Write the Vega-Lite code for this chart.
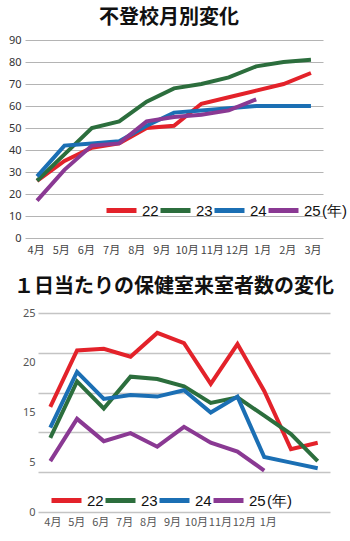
{
  "$schema": "https://vega.github.io/schema/vega-lite/v6.json",
  "padding": {"left": 8, "top": 8, "right": 0, "bottom": 0},
  "spacing": 22,
  "center": true,
  "resolve": {"legend": {"color": "independent"}},
  "config": {
    "font": "Noto Sans CJK JP",
    "view": {"stroke": null},
    "legend": {"padding": 0}
  },
  "datasets": {
    "a": [
      {"year": "22", "month": "4月", "value": 26}, {"year": "22", "month": "5月", "value": 35}, {"year": "22", "month": "6月", "value": 41}, {"year": "22", "month": "7月", "value": 43}, {"year": "22", "month": "8月", "value": 50}, {"year": "22", "month": "9月", "value": 51}, {"year": "22", "month": "10月", "value": 61}, {"year": "22", "month": "11月", "value": 64}, {"year": "22", "month": "12月", "value": 67}, {"year": "22", "month": "1月", "value": 70}, {"year": "22", "month": "2月", "value": 75},
      {"year": "23", "month": "4月", "value": 26}, {"year": "23", "month": "5月", "value": 38}, {"year": "23", "month": "6月", "value": 50}, {"year": "23", "month": "7月", "value": 53}, {"year": "23", "month": "8月", "value": 62}, {"year": "23", "month": "9月", "value": 68}, {"year": "23", "month": "10月", "value": 70}, {"year": "23", "month": "11月", "value": 73}, {"year": "23", "month": "12月", "value": 78}, {"year": "23", "month": "1月", "value": 80}, {"year": "23", "month": "2月", "value": 81},
      {"year": "24", "month": "4月", "value": 28}, {"year": "24", "month": "5月", "value": 42}, {"year": "24", "month": "6月", "value": 43}, {"year": "24", "month": "7月", "value": 44}, {"year": "24", "month": "8月", "value": 51}, {"year": "24", "month": "9月", "value": 57}, {"year": "24", "month": "10月", "value": 58}, {"year": "24", "month": "11月", "value": 59}, {"year": "24", "month": "12月", "value": 60}, {"year": "24", "month": "1月", "value": 60}, {"year": "24", "month": "2月", "value": 60},
      {"year": "25", "month": "4月", "value": 17}, {"year": "25", "month": "5月", "value": 31}, {"year": "25", "month": "6月", "value": 42}, {"year": "25", "month": "7月", "value": 43}, {"year": "25", "month": "8月", "value": 53}, {"year": "25", "month": "9月", "value": 55}, {"year": "25", "month": "10月", "value": 56}, {"year": "25", "month": "11月", "value": 58}, {"year": "25", "month": "12月", "value": 63}
    ],
    "b": [
      {"year": "22", "month": "4月", "value": 13.2}, {"year": "22", "month": "5月", "value": 20.3}, {"year": "22", "month": "6月", "value": 20.5}, {"year": "22", "month": "7月", "value": 19.5}, {"year": "22", "month": "8月", "value": 22.5}, {"year": "22", "month": "9月", "value": 21.2}, {"year": "22", "month": "10月", "value": 16.1}, {"year": "22", "month": "11月", "value": 21.1}, {"year": "22", "month": "12月", "value": 15.2}, {"year": "22", "month": "1月", "value": 7.9}, {"year": "22", "month": "2月", "value": 8.7},
      {"year": "23", "month": "4月", "value": 9.3}, {"year": "23", "month": "5月", "value": 16.4}, {"year": "23", "month": "6月", "value": 13.0}, {"year": "23", "month": "7月", "value": 17.0}, {"year": "23", "month": "8月", "value": 16.7}, {"year": "23", "month": "9月", "value": 15.8}, {"year": "23", "month": "10月", "value": 13.7}, {"year": "23", "month": "11月", "value": 14.4}, {"year": "23", "month": "12月", "value": 12.1}, {"year": "23", "month": "1月", "value": 9.8}, {"year": "23", "month": "2月", "value": 6.4},
      {"year": "24", "month": "4月", "value": 10.6}, {"year": "24", "month": "5月", "value": 17.6}, {"year": "24", "month": "6月", "value": 14.2}, {"year": "24", "month": "7月", "value": 14.7}, {"year": "24", "month": "8月", "value": 14.5}, {"year": "24", "month": "9月", "value": 15.3}, {"year": "24", "month": "10月", "value": 12.5}, {"year": "24", "month": "11月", "value": 14.5}, {"year": "24", "month": "12月", "value": 6.9}, {"year": "24", "month": "1月", "value": 6.2}, {"year": "24", "month": "2月", "value": 5.5},
      {"year": "25", "month": "4月", "value": 6.4}, {"year": "25", "month": "5月", "value": 11.7}, {"year": "25", "month": "6月", "value": 8.9}, {"year": "25", "month": "7月", "value": 9.9}, {"year": "25", "month": "8月", "value": 8.2}, {"year": "25", "month": "9月", "value": 10.7}, {"year": "25", "month": "10月", "value": 8.7}, {"year": "25", "month": "11月", "value": 7.6}, {"year": "25", "month": "12月", "value": 5.2}
    ],
    "months12": [
      {"m": "4月"}, {"m": "5月"}, {"m": "6月"}, {"m": "7月"}, {"m": "8月"}, {"m": "9月"}, {"m": "10月"}, {"m": "11月"}, {"m": "12月"}, {"m": "1月"}, {"m": "2月"}, {"m": "3月"}
    ],
    "ylabs": [
      {"lab": "25"}, {"lab": "20"}, {"lab": "15"}, {"lab": "5"}, {"lab": "0"}
    ]
  },
  "vconcat": [
    {
      "title": {"text": "不登校月別変化", "fontSize": 20, "fontWeight": "bold", "color": "#111", "anchor": "middle", "frame": "group", "offset": 6, "dx": -5},
      "width": 298,
      "height": 198,
      "layer": [
        {
          "data": {"name": "a"},
          "mark": {"type": "line", "strokeWidth": 4},
          "encoding": {
            "x": {"field": "month", "type": "ordinal", "scale": {"type": "point", "domain": ["4月", "5月", "6月", "7月", "8月", "9月", "10月", "11月", "12月", "1月", "2月"], "padding": 0.44}, "axis": null},
            "y": {"field": "value", "type": "quantitative", "scale": {"domain": [0, 90]},
              "axis": {"title": null, "values": [0, 10, 20, 30, 40, 50, 60, 70, 80, 90], "grid": true, "gridColor": "#b4b4b4", "domain": false, "ticks": false, "labelPadding": 4, "labelFontSize": 11, "labelColor": "#333", "labelFont": "Noto Sans"}},
            "color": {"field": "year", "type": "nominal",
              "scale": {"domain": ["22", "23", "24", "25"], "range": ["#e3222a", "#2c6e3d", "#1b6fb4", "#8a3993"]},
              "legend": {"orient": "none", "direction": "horizontal", "gridAlign": "none", "legendX": 79, "legendY": 153, "title": null, "symbolType": "stroke", "symbolSize": 900, "symbolStrokeWidth": 5, "labelFontSize": 15, "labelFont": "Liberation Sans", "labelColor": "#111", "labelOffset": 3, "columnPadding": -9, "labelExpr": "datum.label == '25' ? '25\u200a(年)' : datum.label"}}
          }
        },
        {
          "data": {"name": "months12"},
          "mark": {"type": "point", "opacity": 0},
          "encoding": {
            "x": {"field": "m", "type": "ordinal", "scale": {"type": "point", "domain": ["4月", "5月", "6月", "7月", "8月", "9月", "10月", "11月", "12月", "1月", "2月", "3月"], "padding": 0.42},
              "axis": {"orient": "bottom", "title": null, "domain": false, "ticks": false, "labelAngle": 0, "labelFontSize": 11, "labelPadding": 6, "labelColor": "#444"}}
          }
        }
      ],
      "resolve": {"scale": {"x": "independent"}, "axis": {"x": "independent"}}
    },
    {
      "title": {"text": "１日当たりの保健室来室者数の変化", "fontSize": 20, "fontWeight": "bold", "color": "#111", "anchor": "middle", "frame": "group", "offset": 10, "dx": -10},
      "width": 292,
      "height": 199,
      "layer": [
        {
          "data": {"name": "b"},
          "mark": {"type": "line", "strokeWidth": 4},
          "encoding": {
            "x": {"field": "month", "type": "ordinal", "scale": {"type": "point", "domain": ["4月", "5月", "6月", "7月", "8月", "9月", "10月", "11月", "12月", "1月", "2月"], "padding": 0.46}, "axis": null},
            "y": {"field": "value", "type": "quantitative", "scale": {"domain": [0, 25]},
              "axis": {"orient": "left", "title": null, "values": [0, 5, 10, 15, 20, 25], "grid": true, "gridColor": "#c4c4c4", "gridWidth": 1.5, "domain": false, "ticks": false, "labels": false}},
            "color": {"field": "year", "type": "nominal",
              "scale": {"domain": ["22", "23", "24", "25"], "range": ["#e3222a", "#2c6e3d", "#1b6fb4", "#8a3993"]},
              "legend": {"orient": "none", "direction": "horizontal", "gridAlign": "none", "legendX": 11, "legendY": 170, "title": null, "symbolType": "stroke", "symbolSize": 900, "symbolStrokeWidth": 5, "labelFontSize": 15, "labelFont": "Liberation Sans", "labelColor": "#111", "labelOffset": 3, "columnPadding": -9, "labelExpr": "datum.label == '25' ? '25\u200a(年)' : datum.label"}}
          }
        },
        {
          "data": {"name": "months12"},
          "mark": {"type": "point", "opacity": 0},
          "encoding": {
            "x": {"field": "m", "type": "ordinal", "scale": {"type": "point", "domain": ["4月", "5月", "6月", "7月", "8月", "9月", "10月", "11月", "12月", "1月", "2月", "3月"], "padding": 0.6},
              "axis": {"orient": "bottom", "title": null, "domain": false, "ticks": false, "labelAngle": 0, "labelFontSize": 11, "labelPadding": 4, "labelColor": "#555", "values": ["4月", "5月", "6月", "7月", "8月", "9月", "10月", "11月", "12月", "1月"]}}
          }
        },
        {
          "data": {"name": "ylabs"},
          "mark": {"type": "point", "opacity": 0},
          "encoding": {
            "y": {"field": "lab", "type": "ordinal", "scale": {"type": "point", "domain": ["25", "20", "15", "5", "0"], "padding": 0},
              "axis": {"orient": "left", "title": null, "domain": false, "ticks": false, "grid": false, "labelPadding": 3, "labelFontSize": 11, "labelColor": "#555", "labelFont": "Noto Sans"}}
          }
        }
      ],
      "resolve": {"scale": {"x": "independent", "y": "independent"}, "axis": {"x": "independent", "y": "independent"}}
    }
  ]
}
